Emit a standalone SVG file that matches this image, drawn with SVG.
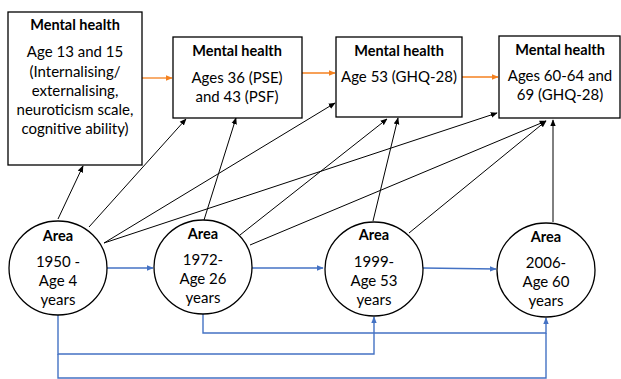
<svg xmlns="http://www.w3.org/2000/svg" width="621" height="379" viewBox="0 0 621 379">
<defs>
<marker id="ab" viewBox="0 0 10 10" refX="9" refY="5" markerWidth="7" markerHeight="7" markerUnits="userSpaceOnUse" orient="auto"><path d="M0,1 L10,5 L0,9 z" fill="#000"/></marker>
<marker id="ao" viewBox="0 0 10 10" refX="9" refY="5" markerWidth="7" markerHeight="7" markerUnits="userSpaceOnUse" orient="auto"><path d="M0,1 L10,5 L0,9 z" fill="#F4811F"/></marker>
<marker id="abl" viewBox="0 0 10 10" refX="9" refY="5" markerWidth="7" markerHeight="7" markerUnits="userSpaceOnUse" orient="auto"><path d="M0,1 L10,5 L0,9 z" fill="#4472C4"/></marker>
</defs>
<style>
.box{fill:#fff;stroke:#000;stroke-width:1.3}
.t{font-family:Lato,"Liberation Sans",sans-serif;font-size:15px;fill:#000;text-anchor:middle}
.b{font-weight:bold;font-size:14.5px}
.k{stroke:#000;stroke-width:1;fill:none;marker-end:url(#ab)}
.o{stroke:#F4811F;stroke-width:1.3;fill:none;marker-end:url(#ao)}
.bl{stroke:#4472C4;stroke-width:1.4;fill:none}
.bla{stroke:#4472C4;stroke-width:1.4;fill:none;marker-end:url(#abl)}
</style>
<rect width="621" height="379" fill="#fff"/>
<g id="connectors">
<path class="k" d="M58,219 L83,166"/>
<path class="k" d="M89,227 L186,119"/>
<path class="k" d="M104,243 L335,103"/>
<path class="k" d="M104,243 L497,113"/>
<path class="k" d="M204,220 L236,118"/>
<path class="k" d="M240,235 L387,119"/>
<path class="k" d="M250,245 L546,121"/>
<path class="k" d="M373,221 L398,118"/>
<path class="k" d="M409,233 L546,121"/>
<path class="k" d="M553,222 L553,120"/>
<path class="o" d="M142,78 L172,78"/>
<path class="o" d="M302,73 L335,73"/>
<path class="o" d="M462,77 L498,77"/>
<path class="bla" d="M107,268 L153,268"/>
<path class="bla" d="M252,268 L323,268"/>
<path class="bla" d="M423,268 L496,269"/>
<path class="bla" d="M203,314 L203,333 L546,333 L546,318"/>
<path class="bla" d="M58,315 L58,354 L374,354 L374,317"/>
<path class="bl" d="M58,354 L58,378 L546,378 L546,333"/>
</g>
<g id="mh1">
<rect class="box" x="8" y="12" width="134" height="153"/>
<text class="t b" x="75" y="30">Mental health</text>
<text class="t" x="75" y="57">Age 13 and 15</text>
<text class="t" x="75" y="77">(Internalising/</text>
<text class="t" x="75" y="96">externalising,</text>
<text class="t" x="75" y="115">neuroticism scale,</text>
<text class="t" x="75" y="134">cognitive ability)</text>
</g>
<g id="mh2">
<rect class="box" x="173" y="37" width="129" height="81"/>
<text class="t b" x="237" y="56">Mental health</text>
<text class="t" x="237" y="83">Ages 36 (PSE)</text>
<text class="t" x="237" y="102">and 43 (PSF)</text>
</g>
<g id="mh3">
<rect class="box" x="336" y="37" width="126" height="80"/>
<text class="t b" x="399" y="56">Mental health</text>
<text class="t" x="399" y="82">Age 53 (GHQ-28)</text>
</g>
<g id="mh4">
<rect class="box" x="499" y="36" width="121" height="82"/>
<text class="t b" x="560" y="55">Mental health</text>
<text class="t" x="560" y="81">Ages 60-64 and</text>
<text class="t" x="560" y="100">69 (GHQ-28)</text>
</g>
<g id="area1">
<ellipse class="box" cx="58" cy="268" rx="49" ry="47"/>
<text class="t b" x="58" y="241">Area</text>
<text class="t" x="58" y="267">1950 -</text>
<text class="t" x="58" y="286">Age 4</text>
<text class="t" x="58" y="305">years</text>
</g>
<g id="area2">
<ellipse class="box" cx="203" cy="267" rx="49" ry="47"/>
<text class="t b" x="203" y="239">Area</text>
<text class="t" x="203" y="265">1972-</text>
<text class="t" x="203" y="284">Age 26</text>
<text class="t" x="203" y="303">years</text>
</g>
<g id="area3">
<ellipse class="box" cx="374" cy="269" rx="49" ry="47"/>
<text class="t b" x="374" y="240">Area</text>
<text class="t" x="374" y="267">1999-</text>
<text class="t" x="374" y="286">Age 53</text>
<text class="t" x="374" y="305">years</text>
</g>
<g id="area4">
<ellipse class="box" cx="546" cy="270" rx="49" ry="47"/>
<text class="t b" x="546" y="242">Area</text>
<text class="t" x="546" y="268">2006-</text>
<text class="t" x="546" y="287">Age 60</text>
<text class="t" x="546" y="306">years</text>
</g>
</svg>
